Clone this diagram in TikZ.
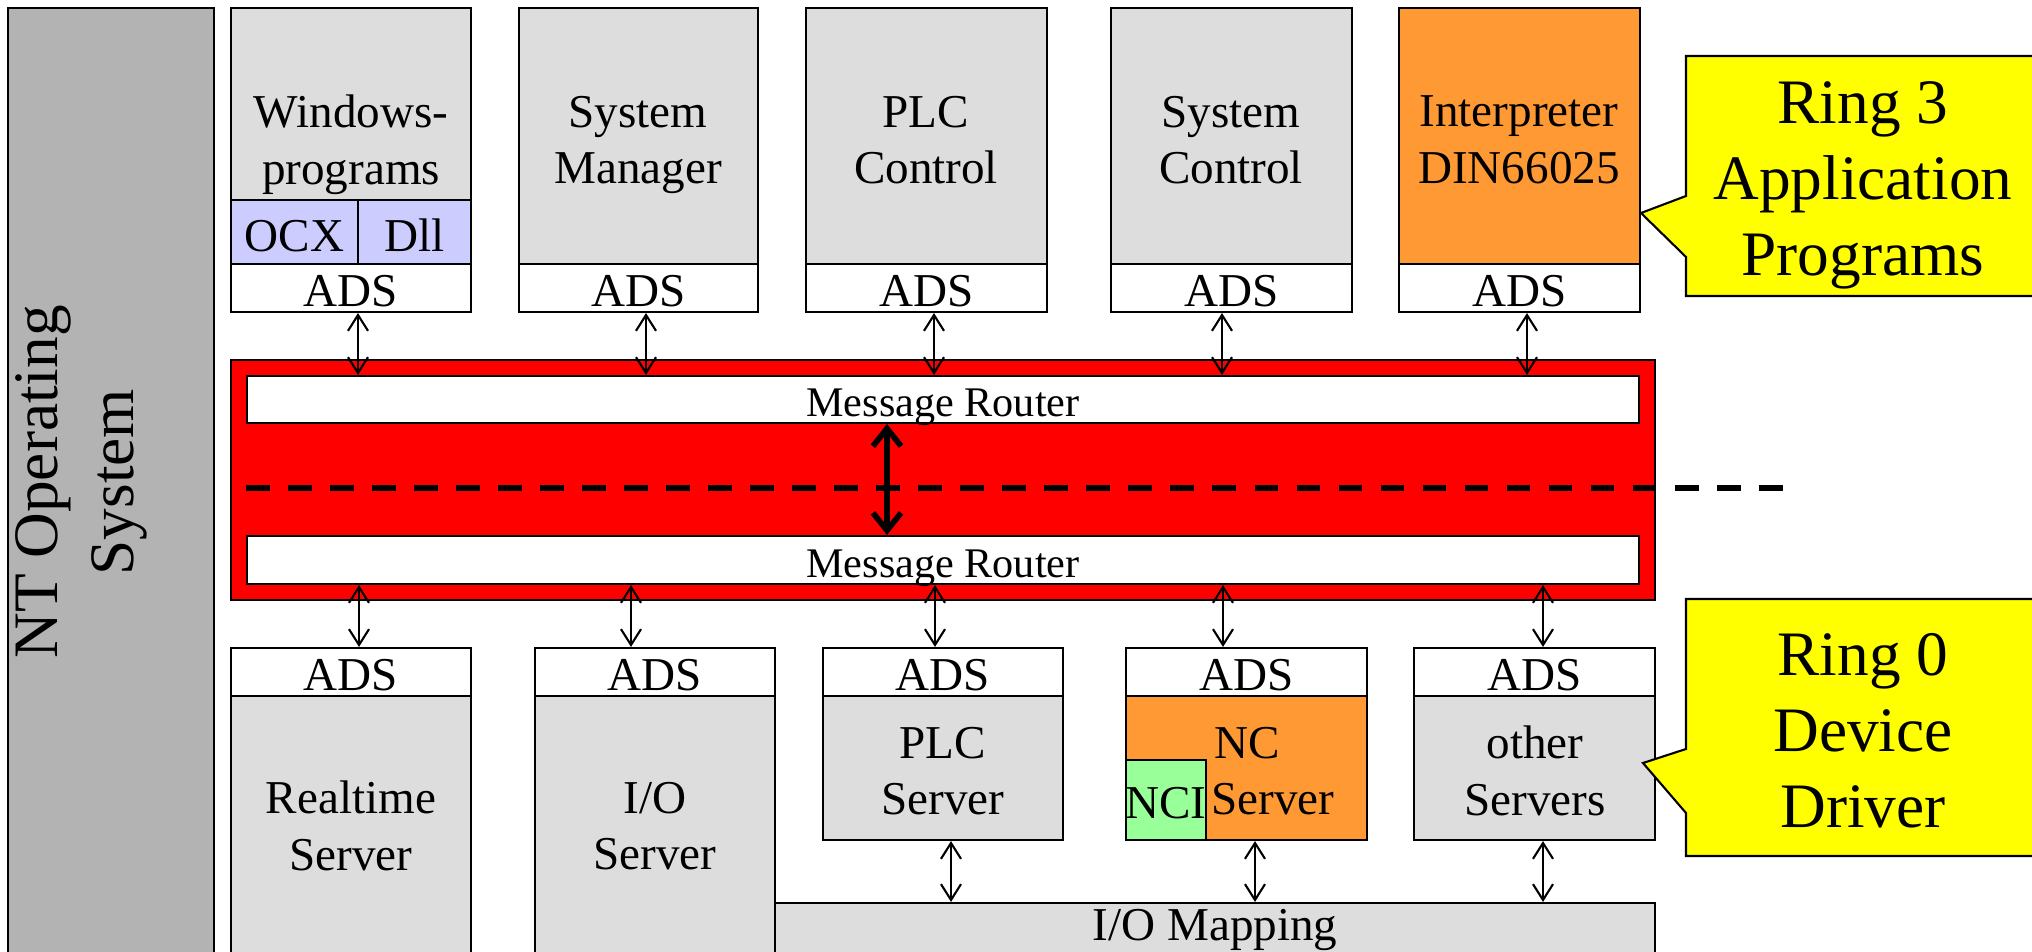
\documentclass[tikz,border=0pt]{standalone}
\usepackage{fontspec}
\setmainfont{Liberation Serif}
\usetikzlibrary{arrows.meta,fit,calc}
\definecolor{osGray}{HTML}{B3B3B3}
\definecolor{boxGray}{HTML}{DDDDDD}
\definecolor{libBlue}{HTML}{CCCCFF}
\definecolor{ncOrange}{HTML}{FF9933}
\definecolor{nciGreen}{HTML}{99FF99}
\definecolor{busRed}{HTML}{FF0000}
\definecolor{noteYellow}{HTML}{FFFF00}

\tikzset{
  blk/.style={draw, line width=0.6pt, inner sep=0pt},
  body/.style={blk, fill=boxGray},
  ifc/.style={blk, fill=white},
  txt/.style={anchor=base, inner sep=0pt, font=\fontsize{13.4}{16}\selectfont},
  lbl/.style={align=center, font=\fontsize{13.4}{16}\selectfont,
              execute at begin node=\strut, execute at end node=\strut},
  biglbl/.style={align=center, font=\fontsize{18}{21.6}\selectfont,
              execute at begin node=\strut, execute at end node=\strut},
  link/.style={{Straight Barb[length=4.5pt,width=5.7pt]}-{Straight Barb[length=4.5pt,width=5.7pt]},
              line width=0.6pt},
  note/.style={draw, line width=0.6pt, fill=noteYellow},
}

\begin{document}
\begin{tikzpicture}[x=0.01cm, y=-0.01cm]
\path[use as bounding box, fill=white] (0,0) rectangle (2032,952);

% operating system column
\node[blk, fill=osGray, fit={(8,8) (214,980)}] (nt) {};
\node[biglbl, rotate=90] (nt-txt) at (86,482) {NT Operating\\System};

% ring 3: application programs
\node[body, fit={(231,8) (471,200)}] (wp) {};
\node[blk, fill=libBlue, fit={(231,200) (358,264)}] (ocx) {};
\node[blk, fill=libBlue, fit={(358,200) (471,264)}] (dll) {};
\node[ifc, fit={(231,264) (471,312)}] (wp-ads) {};
\node[txt] (ocx-txt) at ($(ocx.south)+(0,-14)$) {OCX};
\node[txt] (dll-txt) at ($(dll.south)+(0,-14)$) {Dll};
\node[lbl] (wp-txt) at (351,148) {Windows-\\programs};

\node[body, fit={(519,8) (758,264)}] (sm) {};
\node[ifc, fit={(519,264) (758,312)}] (sm-ads) {};
\node[lbl] (sm-txt) at (638,148) {System\\Manager};

\node[body, fit={(806,8) (1047,264)}] (plcc) {};
\node[ifc, fit={(806,264) (1047,312)}] (plcc-ads) {};
\node[lbl] (plcc-txt) at (926,148) {PLC\\Control};

\node[body, fit={(1111,8) (1352,264)}] (sc) {};
\node[ifc, fit={(1111,264) (1352,312)}] (sc-ads) {};
\node[lbl] (sc-txt) at (1231,148) {System\\Control};

\node[blk, fill=ncOrange, fit={(1399,8) (1640,264)}] (ip) {};
\node[ifc, fit={(1399,264) (1640,312)}] (ip-ads) {};
\node[lbl] (ip-txt) at (1519,148) {Interpreter\\DIN66025};

% ADS labels of the upper row
\foreach \n in {wp, sm, plcc, sc, ip}
  \node[txt] (\n-adstxt) at ($(\n-ads.south)+(0,-7)$) {ADS};

% message router bus
\node[blk, fill=busRed, fit={(231,360) (1655,600)}] (bus) {};
\node[ifc, fit={(247,376) (1639,423)}] (mr-top) {};
\node[ifc, fit={(247,536) (1639,584)}] (mr-bot) {};
\node[txt, font=\fontsize{12}{14}\selectfont] (mr-top-txt) at ($(mr-top.south)+(0,-8)$) {Message Router};
\node[txt, font=\fontsize{12}{14}\selectfont] (mr-bot-txt) at ($(mr-bot.south)+(0,-8)$) {Message Router};
\coordinate (cut-end) at (1783,488);
\draw[line width=1.6pt, dash pattern=on 6.75pt off 5.2pt] (mr-top.west |- cut-end) -- (cut-end);
\draw[{Straight Barb[length=5pt,width=8pt]}-{Straight Barb[length=5pt,width=8pt]}, line width=1.6pt]
  (mr-top.south -| 887,0) -- (mr-bot.north -| 887,0);

% ring 0: device drivers
\node[body, fit={(231,696) (471,980)}] (rt) {};
\node[ifc, fit={(231,648) (471,696)}] (rt-ads) {};
\node[lbl] (rt-txt) at (351,834) {Realtime\\Server};

\node[body, fit={(535,696) (775,980)}] (io) {};
\node[ifc, fit={(535,648) (775,696)}] (io-ads) {};
\node[lbl] (io-txt) at (655,834) {I/O\\Server};

\node[body, fit={(823,696) (1063,840)}] (plcs) {};
\node[ifc, fit={(823,648) (1063,696)}] (plcs-ads) {};
\node[lbl] (plcs-txt) at (943,779) {PLC\\Server};

\node[blk, fill=ncOrange, fit={(1126,696) (1367,840)}] (nc) {};
\node[ifc, fit={(1126,648) (1367,696)}] (nc-ads) {};
\node[lbl] (nc-txt) at (1247,779) {NC\\\hspace*{0.52cm}Server};
\node[blk, fill=nciGreen, fit={(1126,760) (1206,840)}] (nci) {};
\node[txt] (nci-txt) at ($(nci.south)+(0,-23)$) {NCI};

\node[body, fit={(1414,696) (1655,840)}] (os) {};
\node[ifc, fit={(1414,648) (1655,696)}] (os-ads) {};
\node[lbl] (os-txt) at (1535,779) {other\\Servers};

% ADS labels of the lower row
\foreach \n in {rt, io, plcs, nc, os}
  \node[txt] (\n-adstxt) at ($(\n-ads.south)+(0,-7)$) {ADS};

\node[body, fit={(775,903) (1655,960)}] (iomap) {};
\node[txt] (iomap-txt) at ($(iomap.north)+(0,39)$) {I/O Mapping};

% connections
\foreach \n/\x in {wp/358, sm/646, plcc/934, sc/1222, ip/1527}
  \draw[link] (\n-ads.south -| \x,0) -- (mr-top.north -| \x,0);
\foreach \n/\x in {rt/359, io/631, plcs/935, nc/1223, os/1543}
  \draw[link] (mr-bot.south -| \x,0) -- (\n-ads.north -| \x,0);
\foreach \n/\x in {plcs/951, nc/1255, os/1543}
  \draw[link] (\n.south -| \x,0) -- (iomap.north -| \x,0);

% ring callouts
\draw[note] (2045,56) -- (1686,56) -- (1686,196) -- (1641,213) -- (1686,257)
  -- (1686,296) -- (2045,296) -- cycle;
\node[biglbl] (ring3) at (1863,190) {Ring 3\\Application\\Programs};
\draw[note] (2045,599) -- (1686,599) -- (1686,749) -- (1643,763) -- (1686,813)
  -- (1686,856) -- (2045,856) -- cycle;
\node[biglbl] (ring0) at (1863,742) {Ring 0\\Device\\Driver};
\end{tikzpicture}
\end{document}
